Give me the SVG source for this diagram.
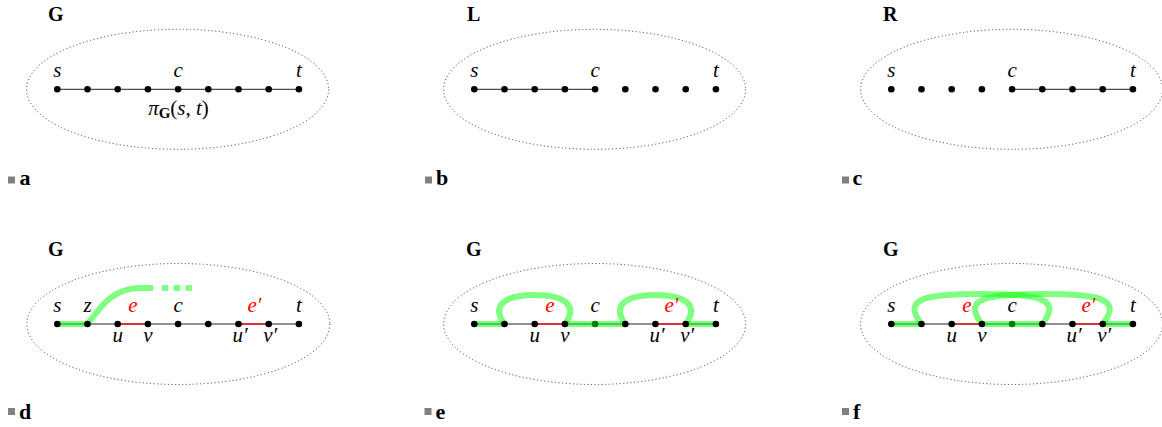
<svg xmlns="http://www.w3.org/2000/svg" width="1162" height="427" viewBox="0 0 1162 427">
<style>
.bg{fill:#fff}
.ell{fill:none;stroke:#333;stroke-width:1;stroke-dasharray:1 2.6}
.path{stroke:#222;stroke-width:1;fill:none}
.red{stroke:#ff0000;stroke-width:1.3;fill:none}
.grn{stroke:#00ff00;stroke-opacity:0.5;stroke-width:6;fill:none}
.dot{fill:#000}
.gdot{fill:#007f00}
.lbl{font-family:"Liberation Serif",serif;font-style:italic;font-size:21px;fill:#000;text-anchor:middle}
.rl{fill:#ff0000}
.ttl{font-family:"Liberation Serif",serif;font-weight:bold;font-size:20px;fill:#000}
.pl{font-family:"Liberation Serif",serif;font-weight:bold;font-size:22px;fill:#000}
.sq{fill:#808080}
</style>
<rect class="bg" x="0" y="0" width="1162" height="427"/>

<!-- panel a -->
<g id="panel-a">
  <text class="ttl" x="48" y="20.5">G</text>
  <ellipse class="ell" cx="177.6" cy="89.3" rx="151" ry="60"/>
  <rect class="sq" x="8" y="176.5" width="7" height="7"/>
  <text class="pl" x="19.5" y="184.5">a</text>
</g>
<g id="edges-a">
  <line class="path" x1="57.3" y1="89.3" x2="298.9" y2="89.3"/>
</g>
<g id="a-s"><circle class="dot" cx="57.3" cy="89.3" r="3.3"/><text class="lbl" x="57.3" y="77.3">s</text></g>
<g id="a-n1"><circle class="dot" cx="87.5" cy="89.3" r="3.3"/></g>
<g id="a-n2"><circle class="dot" cx="117.7" cy="89.3" r="3.3"/></g>
<g id="a-n3"><circle class="dot" cx="147.9" cy="89.3" r="3.3"/></g>
<g id="a-c"><circle class="dot" cx="178.1" cy="89.3" r="3.3"/><text class="lbl" x="178.1" y="77.3">c</text></g>
<g id="a-n5"><circle class="dot" cx="208.3" cy="89.3" r="3.3"/></g>
<g id="a-n6"><circle class="dot" cx="238.5" cy="89.3" r="3.3"/></g>
<g id="a-n7"><circle class="dot" cx="268.7" cy="89.3" r="3.3"/></g>
<g id="a-t"><circle class="dot" cx="298.9" cy="89.3" r="3.3"/><text class="lbl" x="298.9" y="77.3">t</text></g>
<g id="a-pi"><text class="lbl" x="178.5" y="115" font-size="22" font-style="normal"><tspan font-style="italic">π</tspan><tspan font-style="normal" font-weight="bold" font-size="15" dy="3">G</tspan><tspan font-style="normal" dy="-3">(</tspan><tspan font-style="italic">s</tspan><tspan font-style="normal">,  </tspan><tspan font-style="italic">t</tspan><tspan font-style="normal">)</tspan></text></g>

<!-- panel b -->
<g id="panel-b">
  <text class="ttl" x="467" y="20.5">L</text>
  <ellipse class="ell" cx="594.6" cy="89.3" rx="151" ry="60"/>
  <rect class="sq" x="425" y="176.5" width="7" height="7"/>
  <text class="pl" x="436" y="184.5">b</text>
</g>
<g id="edges-b">
  <line class="path" x1="474.3" y1="89.3" x2="595.1" y2="89.3"/>
</g>
<g id="b-s"><circle class="dot" cx="474.3" cy="89.3" r="3.3"/><text class="lbl" x="474.3" y="77.3">s</text></g>
<g id="b-n1"><circle class="dot" cx="504.5" cy="89.3" r="3.3"/></g>
<g id="b-n2"><circle class="dot" cx="534.7" cy="89.3" r="3.3"/></g>
<g id="b-n3"><circle class="dot" cx="564.9" cy="89.3" r="3.3"/></g>
<g id="b-c"><circle class="dot" cx="595.1" cy="89.3" r="3.3"/><text class="lbl" x="595.1" y="77.3">c</text></g>
<g id="b-n5"><circle class="dot" cx="625.3" cy="89.3" r="3.3"/></g>
<g id="b-n6"><circle class="dot" cx="655.5" cy="89.3" r="3.3"/></g>
<g id="b-n7"><circle class="dot" cx="685.7" cy="89.3" r="3.3"/></g>
<g id="b-t"><circle class="dot" cx="715.9" cy="89.3" r="3.3"/><text class="lbl" x="715.9" y="77.3">t</text></g>

<!-- panel c -->
<g id="panel-c">
  <text class="ttl" x="883" y="20.5">R</text>
  <ellipse class="ell" cx="1011.6" cy="89.3" rx="151" ry="60"/>
  <rect class="sq" x="842" y="176.5" width="7" height="7"/>
  <text class="pl" x="852.5" y="184.5">c</text>
</g>
<g id="edges-c">
  <line class="path" x1="1012.1" y1="89.3" x2="1132.9" y2="89.3"/>
</g>
<g id="c-s"><circle class="dot" cx="891.3" cy="89.3" r="3.3"/><text class="lbl" x="891.3" y="77.3">s</text></g>
<g id="c-n1"><circle class="dot" cx="921.5" cy="89.3" r="3.3"/></g>
<g id="c-n2"><circle class="dot" cx="951.7" cy="89.3" r="3.3"/></g>
<g id="c-n3"><circle class="dot" cx="981.9" cy="89.3" r="3.3"/></g>
<g id="c-c"><circle class="dot" cx="1012.1" cy="89.3" r="3.3"/><text class="lbl" x="1012.1" y="77.3">c</text></g>
<g id="c-n5"><circle class="dot" cx="1042.3" cy="89.3" r="3.3"/></g>
<g id="c-n6"><circle class="dot" cx="1072.5" cy="89.3" r="3.3"/></g>
<g id="c-n7"><circle class="dot" cx="1102.7" cy="89.3" r="3.3"/></g>
<g id="c-t"><circle class="dot" cx="1132.9" cy="89.3" r="3.3"/><text class="lbl" x="1132.9" y="77.3">t</text></g>

<!-- panel d -->
<g id="panel-d">
  <text class="ttl" x="48" y="256">G</text>
  <ellipse class="ell" cx="178.3" cy="324" rx="151.5" ry="60.5"/>
  <rect class="sq" x="8" y="408" width="7" height="7"/>
  <text class="pl" x="19" y="419">d</text>
</g>
<g id="edges-d">
  <line class="path" x1="57.3" y1="324" x2="298.9" y2="324"/>
  <line class="red" x1="117.7" y1="324" x2="147.9" y2="324"/>
  <line class="red" x1="238.5" y1="324" x2="268.7" y2="324"/>
  <path class="grn" d="M57.3 324 L87.5 324 C100 308 112 288 140 288 L153.3 288"/>
  <path class="grn" d="M161.7 288 L193 288" stroke-dasharray="6.6 5.3"/>
</g>
<g id="d-s"><circle class="dot" cx="57.3" cy="324" r="3.3"/><text class="lbl" x="57.3" y="312">s</text></g>
<g id="d-z"><circle class="dot" cx="87.5" cy="324" r="3.3"/><text class="lbl" x="87.5" y="312">z</text></g>
<g id="d-u"><circle class="dot" cx="117.7" cy="324" r="3.3"/><text class="lbl" x="117.7" y="341.5">u</text></g>
<g id="d-v"><circle class="dot" cx="147.9" cy="324" r="3.3"/><text class="lbl" x="147.9" y="341.5">v</text></g>
<g id="d-c"><circle class="dot" cx="178.1" cy="324" r="3.3"/><text class="lbl" x="178.1" y="312">c</text></g>
<g id="d-n5"><circle class="dot" cx="208.3" cy="324" r="3.3"/></g>
<g id="d-u2"><circle class="dot" cx="238.5" cy="324" r="3.3"/><text class="lbl" x="240" y="341.5">u′</text></g>
<g id="d-v2"><circle class="dot" cx="268.7" cy="324" r="3.3"/><text class="lbl" x="270.2" y="341.5">v′</text></g>
<g id="d-t"><circle class="dot" cx="298.9" cy="324" r="3.3"/><text class="lbl" x="298.9" y="312">t</text></g>
<g id="d-e"><text class="lbl rl" x="132.8" y="312">e</text></g>
<g id="d-e2"><text class="lbl rl" x="254.5" y="312">e′</text></g>

<!-- panel e -->
<g id="panel-e">
  <text class="ttl" x="466" y="256">G</text>
  <ellipse class="ell" cx="594.6" cy="324" rx="151" ry="60.5"/>
  <rect class="sq" x="424.5" y="408" width="7" height="7"/>
  <text class="pl" x="435.5" y="419">e</text>
</g>
<g id="edges-e">
  <line class="path" x1="474.3" y1="324" x2="715.9" y2="324"/>
  <line class="red" x1="534.7" y1="324" x2="564.9" y2="324"/>
  <line class="red" x1="655.5" y1="324" x2="685.7" y2="324"/>
  <path class="grn" d="M474.3 324 L504.5 324"/>
  <path class="grn" d="M504.5 324 C490.5 305 505.5 295 534.5 295 L534.9 295 C563.9 295 578.9 305 564.9 324"/>
  <path class="grn" d="M564.9 324 L625.3 324"/>
  <path class="grn" d="M625.3 324 C611.3 305 626.3 295 655.3 295 L655.7 295 C684.7 295 699.7 305 685.7 324"/>
  <path class="grn" d="M685.7 324 L715.9 324"/>
</g>
<g id="e-s"><circle class="dot" cx="474.3" cy="324" r="3.3"/><text class="lbl" x="474.3" y="312">s</text></g>
<g id="e-n1"><circle class="dot" cx="504.5" cy="324" r="3.3"/></g>
<g id="e-u"><circle class="dot" cx="534.7" cy="324" r="3.3"/><text class="lbl" x="534.7" y="341.5">u</text></g>
<g id="e-v"><circle class="dot" cx="564.9" cy="324" r="3.3"/><text class="lbl" x="564.9" y="341.5">v</text></g>
<g id="e-c"><circle class="gdot" cx="595.1" cy="324" r="3.3"/><text class="lbl" x="595.1" y="312">c</text></g>
<g id="e-n5"><circle class="dot" cx="625.3" cy="324" r="3.3"/></g>
<g id="e-u2"><circle class="dot" cx="655.5" cy="324" r="3.3"/><text class="lbl" x="657" y="341.5">u′</text></g>
<g id="e-v2"><circle class="dot" cx="685.7" cy="324" r="3.3"/><text class="lbl" x="687.2" y="341.5">v′</text></g>
<g id="e-t"><circle class="dot" cx="715.9" cy="324" r="3.3"/><text class="lbl" x="715.9" y="312">t</text></g>
<g id="e-e"><text class="lbl rl" x="549.8" y="312">e</text></g>
<g id="e-e2"><text class="lbl rl" x="671.5" y="312">e′</text></g>

<!-- panel f -->
<g id="panel-f">
  <text class="ttl" x="883" y="256">G</text>
  <ellipse class="ell" cx="1011.6" cy="324" rx="151" ry="60.5"/>
  <rect class="sq" x="842" y="408" width="7" height="7"/>
  <text class="pl" x="853" y="419">f</text>
</g>
<g id="edges-f">
  <line class="path" x1="891.3" y1="324" x2="1132.9" y2="324"/>
  <line class="red" x1="951.7" y1="324" x2="981.9" y2="324"/>
  <line class="red" x1="1072.5" y1="324" x2="1102.7" y2="324"/>
  <path class="grn" d="M891.3 324 L921.5 324"/>
  <path class="grn" d="M921.5 324 C900 297 930 294 981.9 294 C1033.8 294 1063.8 297 1042.3 324"/>
  <path class="grn" d="M981.9 324 C960.4 297 990.4 294 1042.3 294 C1094.2 294 1124.2 297 1102.7 324"/>
  <path class="grn" d="M981.9 324 L1042.3 324"/>
  <path class="grn" d="M1102.7 324 L1132.9 324"/>
</g>
<g id="f-s"><circle class="dot" cx="891.3" cy="324" r="3.3"/><text class="lbl" x="891.3" y="312">s</text></g>
<g id="f-n1"><circle class="dot" cx="921.5" cy="324" r="3.3"/></g>
<g id="f-u"><circle class="dot" cx="951.7" cy="324" r="3.3"/><text class="lbl" x="951.7" y="341.5">u</text></g>
<g id="f-v"><circle class="dot" cx="981.9" cy="324" r="3.3"/><text class="lbl" x="981.9" y="341.5">v</text></g>
<g id="f-c"><circle class="gdot" cx="1012.1" cy="324" r="3.3"/><text class="lbl" x="1012.1" y="312">c</text></g>
<g id="f-n5"><circle class="dot" cx="1042.3" cy="324" r="3.3"/></g>
<g id="f-u2"><circle class="dot" cx="1072.5" cy="324" r="3.3"/><text class="lbl" x="1074" y="341.5">u′</text></g>
<g id="f-v2"><circle class="dot" cx="1102.7" cy="324" r="3.3"/><text class="lbl" x="1104.2" y="341.5">v′</text></g>
<g id="f-t"><circle class="dot" cx="1132.9" cy="324" r="3.3"/><text class="lbl" x="1132.9" y="312">t</text></g>
<g id="f-e"><text class="lbl rl" x="966.8" y="312">e</text></g>
<g id="f-e2"><text class="lbl rl" x="1088.5" y="312">e′</text></g>
</svg>
